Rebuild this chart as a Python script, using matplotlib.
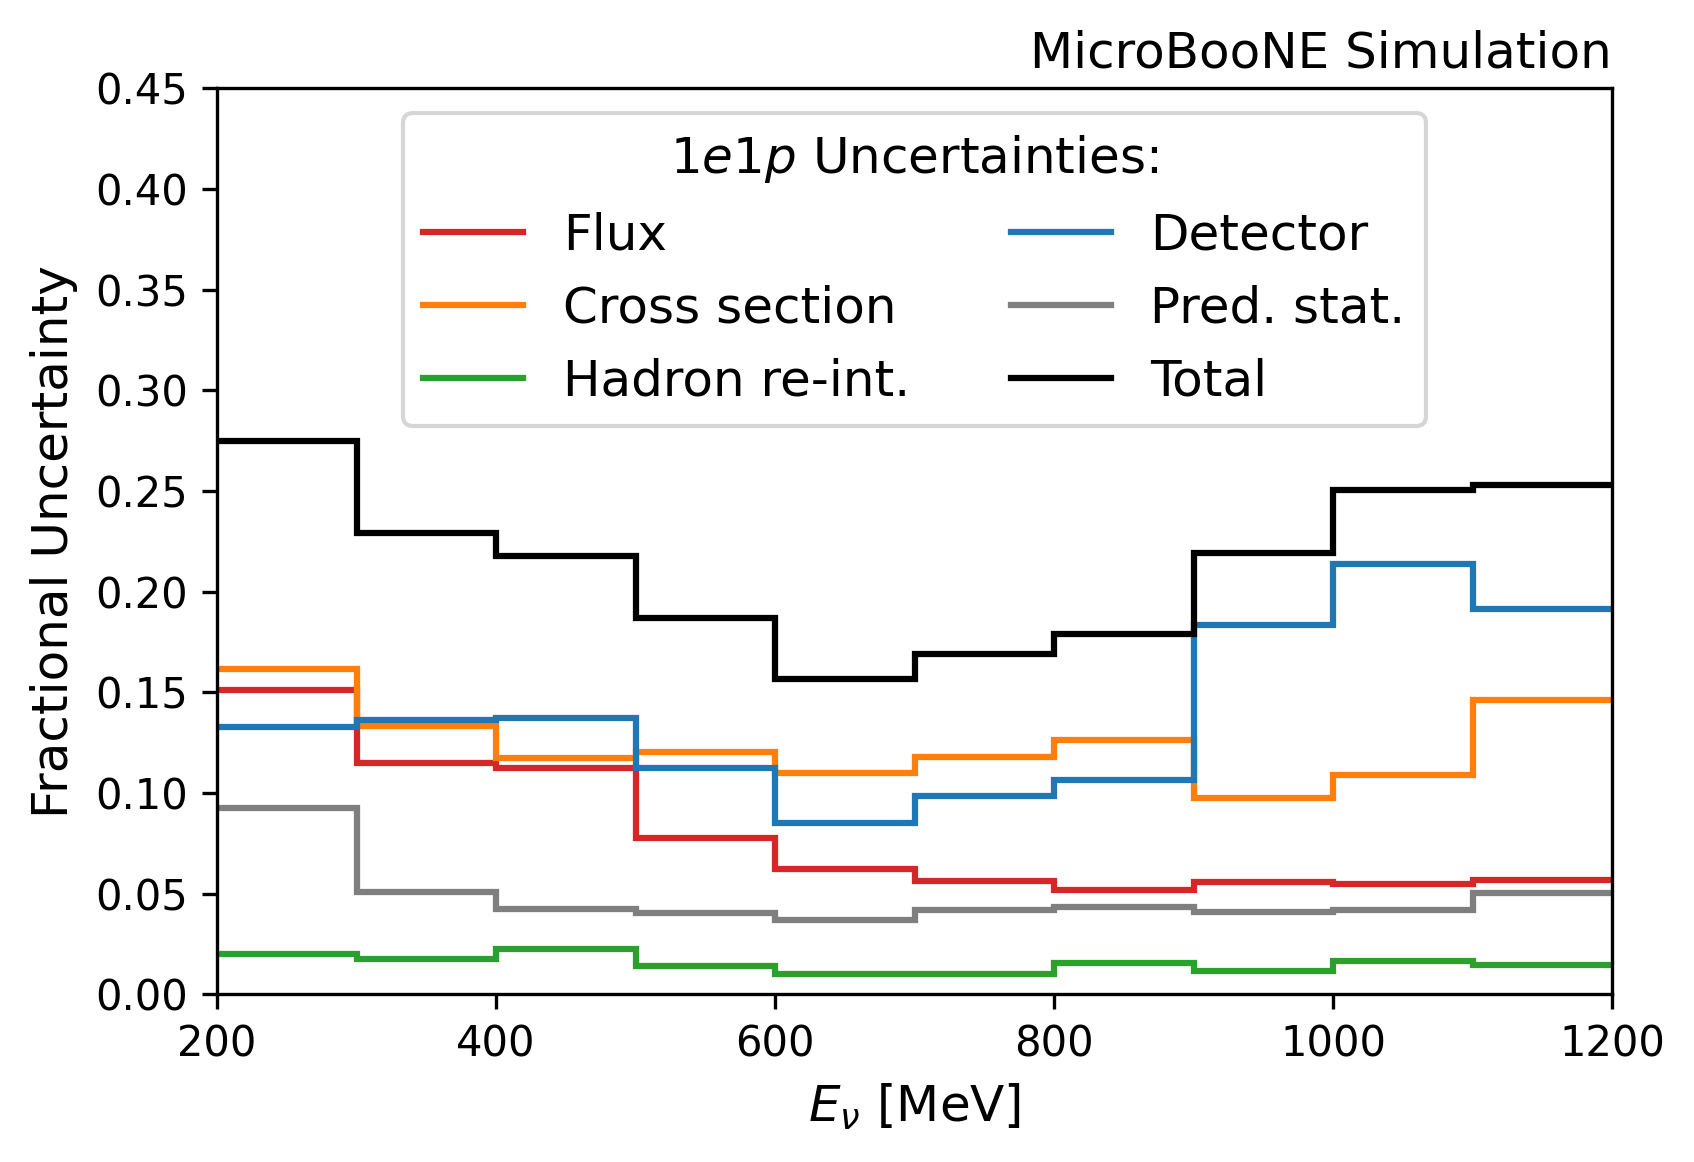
import matplotlib
matplotlib.use("Agg")
import matplotlib.pyplot as plt
import numpy as np

edges = [200, 300, 400, 500, 600, 700, 800, 900, 1000, 1100, 1200]

flux = [0.1513, 0.1147, 0.1126, 0.0778, 0.0622, 0.0564, 0.0517, 0.0558, 0.0549, 0.0568]
xsec = [0.1617, 0.1334, 0.1174, 0.1204, 0.1098, 0.1180, 0.1263, 0.0974, 0.1091, 0.1460]
hadron = [0.0200, 0.0174, 0.0225, 0.0142, 0.0102, 0.0102, 0.0157, 0.0115, 0.0167, 0.0146]
detector = [0.1329, 0.1361, 0.1374, 0.1126, 0.0849, 0.0985, 0.1064, 0.1834, 0.2137, 0.1914]
pred_stat = [0.0927, 0.0510, 0.0425, 0.0405, 0.0371, 0.0419, 0.0434, 0.0410, 0.0419, 0.0505]
total = [0.2750, 0.2290, 0.2179, 0.1871, 0.1565, 0.1692, 0.1790, 0.2190, 0.2505, 0.2530]

labels = ["Flux", "Cross section", "Hadron re-int.", "Detector", "Pred. stat.", "Total"]
colors = ["tab:red", "tab:orange", "tab:green", "tab:blue", "tab:gray", "black"]
series = [flux, xsec, hadron, detector, pred_stat, total]

fig = plt.figure(figsize=(1694/300, 1162/300), dpi=300)
ax = fig.add_axes([217/1694, 1 - 994.3/1162, (1612-217)/1694, (994.3-88.3)/1162])

for vals, lab, col in zip(series, labels, colors):
    ax.stairs(vals, edges, baseline=None, color=col, lw=1.5, label=lab)

ax.set_xlim(200, 1200)
ax.set_ylim(0, 0.45)
ax.set_yticks(np.arange(0, 0.451, 0.05))
ax.set_xlabel(r"$E_\nu$ [MeV]", fontsize=12)
ax.set_ylabel("Fractional Uncertainty", fontsize=12)
ax.set_title("MicroBooNE Simulation", loc="right", fontsize=12, pad=5)

leg = ax.legend(loc="upper center", ncol=2, fontsize=12, title=r"$1e1p$ Uncertainties:",
                title_fontsize=12, labelspacing=0.5)
try:
    leg._legend_box.sep = 6.4
except Exception:
    pass

fig.savefig("out.png", dpi=300)
